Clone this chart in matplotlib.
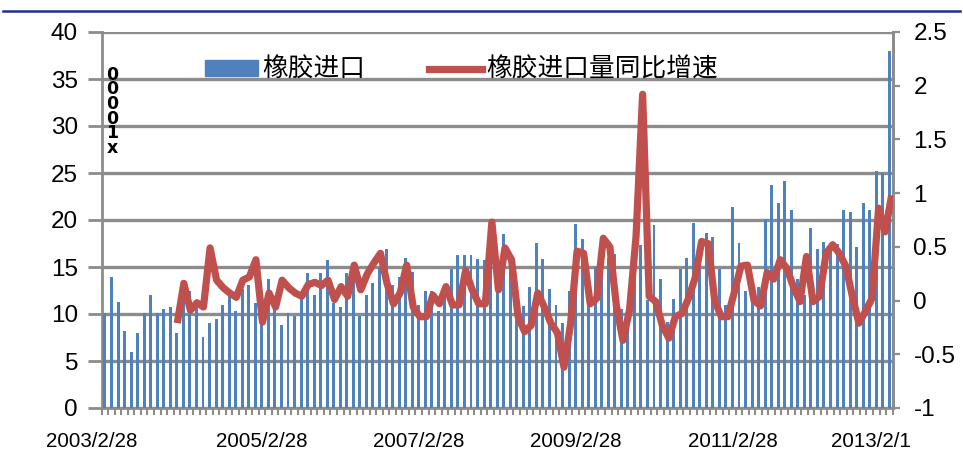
import matplotlib
matplotlib.use('Agg')
import matplotlib.pyplot as plt
from matplotlib import transforms
from matplotlib.patches import Patch
from matplotlib.lines import Line2D

# ---------------- data ----------------
imports = [10.1, 13.9, 11.3, 8.2, 6.0, 8.0, 10.1, 12.0, 10.1, 10.5,
           10.7, 8.0, 12.5, 12.5, 10.8, 7.6, 9.0, 9.5, 11.0, 12.4,
           10.3, 12.7, 13.1, 11.2, 9.5, 13.7, 10.5, 8.8, 10.1, 9.8,
           11.7, 14.4, 12.0, 14.4, 15.7, 11.2, 10.7, 14.4, 14.0, 9.8,
           12.0, 13.3, 15.0, 16.9, 13.1, 13.9, 16.0, 14.5, 11.0, 12.5,
           12.5, 10.3, 12.2, 14.8, 16.3, 16.3, 16.3, 15.8, 15.7, 15.5,
           16.0, 18.5, 15.0, 10.5, 10.8, 12.9, 17.6, 15.9, 12.7, 11.0,
           9.0, 12.5, 19.6, 18.0, 14.2, 15.0, 17.0, 16.0, 16.4, 10.5,
           9.0, 14.0, 17.3, 11.5, 19.5, 13.7, 9.2, 11.6, 14.8, 16.0,
           19.7, 17.0, 18.6, 18.2, 14.8, 11.0, 21.4, 17.6, 12.4, 13.0,
           12.9, 20.1, 23.7, 21.8, 24.1, 21.1, 13.7, 12.0, 19.2, 16.9,
           17.7, 17.5, 17.5, 21.1, 20.9, 17.1, 21.8, 21.1, 25.2, 25.0,
           38.0]

growth_start = 11
growth = [-0.21, 0.16, -0.09, -0.02, -0.06, 0.49, 0.19, 0.12, 0.07,
          0.03, 0.19, 0.22, 0.38, -0.20, 0.07, -0.06, 0.19, 0.12, 0.07,
          0.04, 0.15, 0.17, 0.14, 0.19, 0.01, 0.13, 0.04, 0.33, 0.10,
          0.25, 0.35, 0.44, 0.16, -0.03, 0.07, 0.33, -0.06, -0.15, -0.15,
          0.05, -0.03, 0.13, -0.04, -0.04, 0.28, 0.10, -0.03, -0.03, 0.73,
          0.10, 0.49, 0.38, -0.15, -0.29, -0.23, 0.07, -0.06, -0.21, -0.30,
          -0.62, -0.22, 0.46, 0.44, -0.03, 0.02, 0.58, 0.50, -0.05, -0.37,
          -0.09, 0.60, 1.92, 0.04, -0.01, -0.23, -0.35, -0.15, -0.12, 0.02,
          0.21, 0.55, 0.53, 0.00, -0.15, -0.15, 0.08, 0.32, 0.33, 0.00,
          -0.05, 0.26, 0.20, 0.38, 0.30, 0.13, -0.01, 0.41, -0.01, 0.04,
          0.44, 0.52, 0.44, 0.32, 0.04, -0.21, -0.10, 0.02, 0.86, 0.64,
          0.98]

x_labels = ['2003/2/28', '2005/2/28', '2007/2/28', '2009/2/28',
            '2011/2/28', '2013/2/1']
label_step = 24
left_ticks = [0, 5, 10, 15, 20, 25, 30, 35, 40]
right_ticks = [-1, -0.5, 0, 0.5, 1, 1.5, 2, 2.5]
right_labels = ['-1', '-0.5', '0', '0.5', '1', '1.5', '2', '2.5']
series_names = ['橡胶进口', '橡胶进口量同比增速']
unit_label = '0\n0\n0\n0\n1\nx'

# ---------------- style ----------------
BAR = '#4F81BD'
LINE = '#C0504D'
GRID = '#8C8C8C'
NUM_FONT = ['Liberation Sans', 'DejaVu Sans']
CJK_FONT = ['Noto Sans CJK SC', 'DejaVu Sans']

fig = plt.figure(figsize=(9.63, 4.57), dpi=100)
W, H = 963, 457
L, R, T, B = 101.7, 892.6, 32, 408
rect = [L / W, 1 - B / H, (R - L) / W, (B - T) / H]
ax = fig.add_axes(rect)
# secondary axes (own horizontal scale, as in the source chart)
ax2 = fig.add_axes(rect, label='secondary')
ax2.patch.set_visible(False)
ax2.yaxis.tick_right()
ax2.yaxis.set_label_position('right')
ax2.xaxis.set_visible(False)

n = len(imports)
xs = list(range(n))
ax.bar(xs, imports, width=0.45, color=BAR, zorder=3)
gx = list(range(growth_start, growth_start + len(growth)))
ax2.plot(gx, growth, color=LINE, lw=5.2, solid_joinstyle='round',
         solid_capstyle='butt', zorder=4)

ax.set_xlim(-0.5, n - 0.5)
ax2.set_xlim(-0.53, n - 0.86)
ax.set_ylim(0, 40)
ax2.set_ylim(-1, 2.5)
ax.set_yticks(left_ticks)
ax.set_yticklabels([str(t) for t in left_ticks])
ax2.set_yticks(right_ticks)
ax2.set_yticklabels(right_labels)

ax.yaxis.grid(True, color=GRID, lw=2.4, zorder=0)
ax.set_axisbelow(True)

for a in (ax, ax2):
    for s in a.spines.values():
        s.set_color(GRID)
        s.set_linewidth(2.0)
    a.spines['top'].set_visible(False)
ax2.spines['left'].set_visible(False)
ax2.spines['bottom'].set_visible(False)

ax.tick_params(axis='y', length=10, width=2, color=GRID, pad=7,
               labelsize=17.5)
ax2.tick_params(axis='y', length=5, width=1.6, color=GRID, pad=10,
                labelsize=17.5)

major = list(range(0, n, label_step))
ax.set_xticks(major)
ax.set_xticklabels(x_labels)
ax.set_xticks([i - 0.5 for i in range(n + 1)], minor=True)
ax.tick_params(axis='x', which='major', length=0, pad=17, labelsize=14.8)
ax.tick_params(axis='x', which='minor', length=5, width=1.5, color=GRID)

for lab in ax.get_xticklabels() + ax.get_yticklabels() + ax2.get_yticklabels():
    lab.set_family(NUM_FONT)
    lab.set_color('black')

xl = ax.get_xticklabels()
xl[0].set_transform(xl[0].get_transform() +
                    transforms.ScaledTranslation(-13 / 100, 0, fig.dpi_scale_trans))
xl[-1].set_transform(xl[-1].get_transform() +
                     transforms.ScaledTranslation(-18 / 100, 0, fig.dpi_scale_trans))

# unit label
ax.text(0.013, 0.91, unit_label, transform=ax.transAxes, ha='center',
        va='top', fontsize=12.5, fontweight='bold', linespacing=0.76,
        family=['DejaVu Sans'], zorder=6)

# legend
handles = [Patch(facecolor=BAR, edgecolor=BAR),
           Line2D([0], [0], color=LINE, lw=5.2)]
leg = fig.legend(handles, series_names, loc='center left',
                 bbox_to_anchor=(205 / W, 1 - 70 / H), ncol=2, frameon=False,
                 prop={'family': CJK_FONT, 'size': 18.5},
                 handlelength=2.06, handleheight=0.55, handletextpad=0.16,
                 columnspacing=2.5, borderpad=0, borderaxespad=0)

# top rule
fig.add_artist(Line2D([3 / W, 960 / W], [1 - 11 / H, 1 - 11 / H],
                      color='#1F2F8F', lw=1.8))

fig.savefig('out.png', dpi=100)
